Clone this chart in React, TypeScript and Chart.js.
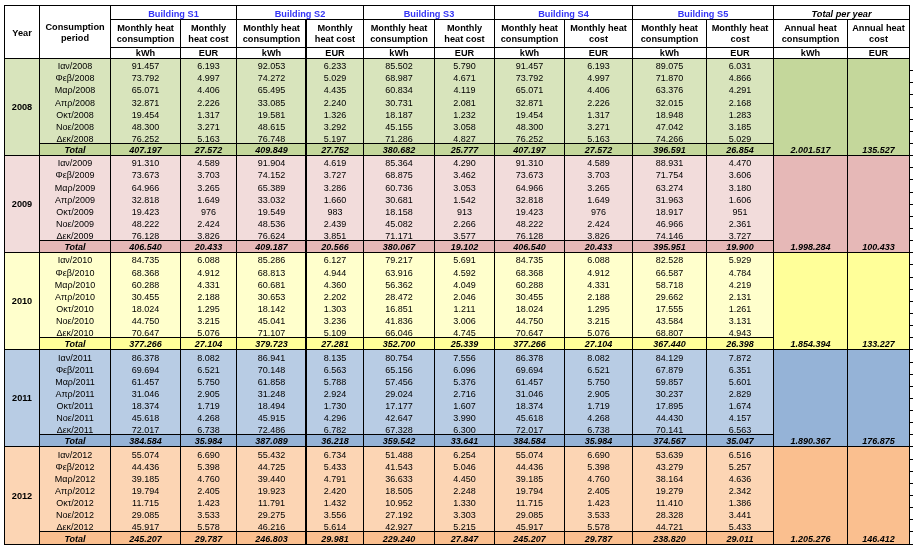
import React, { useEffect, useRef } from 'react';
import { Chart, registerables } from 'chart.js';

Chart.register(...registerables);

// ---------- data ----------
const YEARS = ['2008', '2009', '2010', '2011', '2012'];
const MONTHS = ['Ιαν', 'Φεβ', 'Μαρ', 'Απρ', 'Οκτ', 'Νοε', 'Δεκ'];
const BUILDINGS = ['Building S1', 'Building S2', 'Building S3', 'Building S4', 'Building S5'];
const CONS_HEADS = ['Monthly heat\nconsumption', 'Monthly heat\nconsumption', 'Monthly heat\nconsumption', 'Monthly heat\nconsumption', 'Monthly heat\nconsumption'];
const COST_HEADS = ['Monthly\nheat cost', 'Monthly\nheat cost', 'Monthly\nheat cost', 'Monthly heat\ncost', 'Monthly heat\ncost'];
const TOTAL_HEADS = ['Annual heat\nconsumption', 'Annual heat\ncost'];
const UNITS = ['kWh', 'EUR'];

const S1_KWH = [
  [91457, 73792, 65071, 32871, 19454, 48300, 76252],
  [91310, 73673, 64966, 32818, 19423, 48222, 76128],
  [84735, 68368, 60288, 30455, 18024, 44750, 70647],
  [86378, 69694, 61457, 31046, 18374, 45618, 72017],
  [55074, 44436, 39185, 19794, 11715, 29085, 45917],
];
const S1_KWH_TOTAL = [407197, 406540, 377266, 384584, 245207];
const S1_EUR = [
  [6193, 4997, 4406, 2226, 1317, 3271, 5163],
  [4589, 3703, 3265, 1649, 976, 2424, 3826],
  [6088, 4912, 4331, 2188, 1295, 3215, 5076],
  [8082, 6521, 5750, 2905, 1719, 4268, 6738],
  [6690, 5398, 4760, 2405, 1423, 3533, 5578],
];
const S1_EUR_TOTAL = [27572, 20433, 27104, 35984, 29787];

const S2_KWH = [
  [92053, 74272, 65495, 33085, 19581, 48615, 76748],
  [91904, 74152, 65389, 33032, 19549, 48536, 76624],
  [85286, 68813, 60681, 30653, 18142, 45041, 71107],
  [86941, 70148, 61858, 31248, 18494, 45915, 72486],
  [55432, 44725, 39440, 19923, 11791, 29275, 46216],
];
const S2_KWH_TOTAL = [409849, 409187, 379723, 387089, 246803];
const S2_EUR = [
  [6233, 5029, 4435, 2240, 1326, 3292, 5197],
  [4619, 3727, 3286, 1660, 983, 2439, 3851],
  [6127, 4944, 4360, 2202, 1303, 3236, 5109],
  [8135, 6563, 5788, 2924, 1730, 4296, 6782],
  [6734, 5433, 4791, 2420, 1432, 3556, 5614],
];
const S2_EUR_TOTAL = [27752, 20566, 27281, 36218, 29981];

const S3_KWH = [
  [85502, 68987, 60834, 30731, 18187, 45155, 71286],
  [85364, 68875, 60736, 30681, 18158, 45082, 71171],
  [79217, 63916, 56362, 28472, 16851, 41836, 66046],
  [80754, 65156, 57456, 29024, 17177, 42647, 67328],
  [51488, 41543, 36633, 18505, 10952, 27192, 42927],
];
const S3_KWH_TOTAL = [380682, 380067, 352700, 359542, 229240];
const S3_EUR = [
  [5790, 4671, 4119, 2081, 1232, 3058, 4827],
  [4290, 3462, 3053, 1542, 913, 2266, 3577],
  [5691, 4592, 4049, 2046, 1211, 3006, 4745],
  [7556, 6096, 5376, 2716, 1607, 3990, 6300],
  [6254, 5046, 4450, 2248, 1330, 3303, 5215],
];
const S3_EUR_TOTAL = [25777, 19102, 25339, 33641, 27847];

const S4_KWH = [
  [91457, 73792, 65071, 32871, 19454, 48300, 76252],
  [91310, 73673, 64966, 32818, 19423, 48222, 76128],
  [84735, 68368, 60288, 30455, 18024, 44750, 70647],
  [86378, 69694, 61457, 31046, 18374, 45618, 72017],
  [55074, 44436, 39185, 19794, 11715, 29085, 45917],
];
const S4_KWH_TOTAL = [407197, 406540, 377266, 384584, 245207];
const S4_EUR = [
  [6193, 4997, 4406, 2226, 1317, 3271, 5163],
  [4589, 3703, 3265, 1649, 976, 2424, 3826],
  [6088, 4912, 4331, 2188, 1295, 3215, 5076],
  [8082, 6521, 5750, 2905, 1719, 4268, 6738],
  [6690, 5398, 4760, 2405, 1423, 3533, 5578],
];
const S4_EUR_TOTAL = [27572, 20433, 27104, 35984, 29787];

const S5_KWH = [
  [89075, 71870, 63376, 32015, 18948, 47042, 74266],
  [88931, 71754, 63274, 31963, 18917, 46966, 74146],
  [82528, 66587, 58718, 29662, 17555, 43584, 68807],
  [84129, 67879, 59857, 30237, 17895, 44430, 70141],
  [53639, 43279, 38164, 19279, 11410, 28328, 44721],
];
const S5_KWH_TOTAL = [396591, 395951, 367440, 374567, 238820];
const S5_EUR = [
  [6031, 4866, 4291, 2168, 1283, 3185, 5029],
  [4470, 3606, 3180, 1606, 951, 2361, 3727],
  [5929, 4784, 4219, 2131, 1261, 3131, 4943],
  [7872, 6351, 5601, 2829, 1674, 4157, 6563],
  [6516, 5257, 4636, 2342, 1386, 3441, 5433],
];
const S5_EUR_TOTAL = [26854, 19900, 26398, 35047, 29011];

const ANNUAL_KWH = [2001517, 1998284, 1854394, 1890367, 1205276];
const ANNUAL_EUR = [135527, 100433, 133227, 176875, 146412];

// ---------- layout & style ----------
const COL_W = [35, 71, 70, 56, 70, 57, 71, 60, 70, 68, 74, 67, 74, 62];
const HEAD_H = [14, 28, 11];
const ROW_H = 12.14;
const ROWS_PER_YEAR = 8;
const LIGHT = ['#d8e4bc', '#f2dcdb', '#ffffcc', '#b8cce4', '#fcd5b4'];
const DARK = ['#c4d79b', '#e6b8b7', '#ffff99', '#95b3d7', '#fabf8f'];
const BLUE = '#3535f5';
const FF = '"Liberation Sans", Arial, sans-serif';

const fmt = (n: number) => String(Math.round(n)).replace(/\B(?=(\d{3})+(?!\d))/g, '.');

const tablePlugin = {
  id: 'tablePlugin',
  afterDraw(chart: any) {
    const ctx: CanvasRenderingContext2D = chart.ctx;
    const xs = chart.scales.x;
    const ys = chart.scales.y;
    const edges: number[] = [0];
    COL_W.forEach((w) => edges.push(edges[edges.length - 1] + w));
    const hEdges: number[] = [0];
    HEAD_H.forEach((h) => hEdges.push(hEdges[hEdges.length - 1] + h));
    const headEnd = hEdges[hEdges.length - 1];
    const X = (c: number) => Math.round(xs.getPixelForValue(edges[c]));
    const Yv = (v: number) => Math.round(ys.getPixelForValue(v));
    const blockTop = (b: number) => headEnd + b * ROWS_PER_YEAR * ROW_H;
    const rowTop = (b: number, r: number) => blockTop(b) + r * ROW_H;
    const nCols = COL_W.length;
    const bottomV = blockTop(YEARS.length);

    const fill = (c0: number, c1: number, v0: number, v1: number, color: string) => {
      ctx.fillStyle = color;
      const x0 = X(c0), x1 = X(c1), y0 = Yv(v0), y1 = Yv(v1);
      ctx.fillRect(x0, y0, x1 - x0, y1 - y0);
    };
    const vLine = (c: number, v0: number, v1: number, w = 1) => {
      ctx.fillStyle = '#000';
      const x = X(c);
      const y0 = Yv(v0), y1 = Yv(v1);
      ctx.fillRect(x - (w > 1 ? 1 : 0), y0, w, y1 - y0 + 1);
    };
    const hLine = (c0: number, c1: number, v: number) => {
      ctx.fillStyle = '#000';
      const x0 = X(c0), x1 = X(c1);
      ctx.fillRect(x0, Yv(v), x1 - x0 + 1, 1);
    };
    const cx = (c0: number, c1: number) => (X(c0) + X(c1)) / 2 + 0.5;
    const txt = (s: string, x: number, y: number, font: string, color = '#000', base: CanvasTextBaseline = 'alphabetic') => {
      ctx.font = font;
      ctx.fillStyle = color;
      ctx.textAlign = 'center';
      ctx.textBaseline = base;
      ctx.fillText(s, x, y);
    };
    const HB = `bold 9.2px ${FF}`;
    const HBI = `italic bold 9.2px ${FF}`;
    const DN = `9px ${FF}`;
    const DBI = `italic bold 9px ${FF}`;

    // background
    ctx.save();
    fill(0, nCols, 0, headEnd, '#ffffff');

    const kwh = [S1_KWH, S2_KWH, S3_KWH, S4_KWH, S5_KWH];
    const eur = [S1_EUR, S2_EUR, S3_EUR, S4_EUR, S5_EUR];
    const kwhT = [S1_KWH_TOTAL, S2_KWH_TOTAL, S3_KWH_TOTAL, S4_KWH_TOTAL, S5_KWH_TOTAL];
    const eurT = [S1_EUR_TOTAL, S2_EUR_TOTAL, S3_EUR_TOTAL, S4_EUR_TOTAL, S5_EUR_TOTAL];

    // fills
    YEARS.forEach((_, b) => {
      fill(0, 12, blockTop(b), blockTop(b + 1), LIGHT[b]);
      fill(1, 12, rowTop(b, 7), blockTop(b + 1), DARK[b]);
      fill(12, 14, blockTop(b), blockTop(b + 1), DARK[b]);
    });

    // header lines
    hLine(0, nCols, 0);
    hLine(2, nCols, hEdges[1]);
    hLine(2, nCols, hEdges[2]);
    hLine(0, nCols, hEdges[3]);
    for (let c = 0; c <= nCols; c++) {
      const full = c < 3 || c % 2 === 0;
      if (c === 5) continue;
      vLine(c, full ? 0 : hEdges[1], headEnd);
    }
    // body lines
    YEARS.forEach((_, b) => {
      hLine(1, 12, rowTop(b, 7));
      hLine(0, nCols, blockTop(b + 1));
      for (let c = 0; c <= nCols; c++) {
        if (c === 5) continue;
        vLine(c, blockTop(b), blockTop(b + 1));
      }
      for (let r = 1; r <= ROWS_PER_YEAR; r++) {
        ctx.fillStyle = '#000';
        ctx.fillRect(X(nCols), Yv(rowTop(b, r)), 4, 1);
      }
    });
    vLine(5, hEdges[1], bottomV, 2);

    // header text
    const h0b = Yv(hEdges[1]) - 2.5;
    const h1b = Yv(hEdges[2]);
    const h2b = Yv(hEdges[3]) - 2;
    txt('Year', cx(0, 1), Yv(headEnd) - 22, HB);
    txt('Consumption', cx(1, 2), Yv(headEnd) - 28.5, HB);
    txt('period', cx(1, 2), Yv(headEnd) - 17.5, HB);
    BUILDINGS.forEach((name, i) => {
      const c = 2 + i * 2;
      txt(name, cx(c, c + 2), h0b, HB, BLUE);
      const a = CONS_HEADS[i].split('\n');
      txt(a[0], cx(c, c + 1), h1b - 16.5, HB);
      txt(a[1], cx(c, c + 1), h1b - 5.5, HB);
      const e = COST_HEADS[i].split('\n');
      txt(e[0], cx(c + 1, c + 2), h1b - 16.5, HB);
      txt(e[1], cx(c + 1, c + 2), h1b - 5.5, HB);
      txt(UNITS[0], cx(c, c + 1), h2b, HB);
      txt(UNITS[1], cx(c + 1, c + 2), h2b, HB);
    });
    txt('Total per year', cx(12, 14), h0b, HBI);
    TOTAL_HEADS.forEach((h, i) => {
      const a = h.split('\n');
      txt(a[0], cx(12 + i, 13 + i), h1b - 16.5, HB);
      txt(a[1], cx(12 + i, 13 + i), h1b - 5.5, HB);
      txt(UNITS[i], cx(12 + i, 13 + i), h2b, HB);
    });

    // body text
    YEARS.forEach((year, b) => {
      txt(year, cx(0, 1), (Yv(blockTop(b)) + Yv(blockTop(b + 1))) / 2 + 1, HB, '#000', 'middle');
      for (let r = 0; r < 7; r++) {
        const base = Yv(rowTop(b, r + 1)) - 1.5;
        txt(`${MONTHS[r]}/${year}`, cx(1, 2), base, DN);
        for (let i = 0; i < 5; i++) {
          const c = 2 + i * 2;
          txt(fmt(kwh[i][b][r]), cx(c, c + 1), base, DN);
          txt(fmt(eur[i][b][r]), cx(c + 1, c + 2), base, DN);
        }
      }
      const tb = Yv(rowTop(b, 8)) - 2;
      txt('Total', cx(1, 2), tb, DBI);
      for (let i = 0; i < 5; i++) {
        const c = 2 + i * 2;
        txt(fmt(kwhT[i][b]), cx(c, c + 1), tb, DBI);
        txt(fmt(eurT[i][b]), cx(c + 1, c + 2), tb, DBI);
      }
      txt(fmt(ANNUAL_KWH[b]), cx(12, 13), tb, DBI);
      txt(fmt(ANNUAL_EUR[b]), cx(13, 14), tb, DBI);
    });
    ctx.restore();
  },
};

const TOTAL_W = COL_W.reduce((a, b) => a + b, 0);
const TOTAL_H = HEAD_H.reduce((a, b) => a + b, 0) + YEARS.length * ROWS_PER_YEAR * ROW_H;

export default function App() {
  const ref = useRef<HTMLCanvasElement | null>(null);
  useEffect(() => {
    if (!ref.current) return;
    const chart = new Chart(ref.current, {
      type: 'scatter',
      data: { datasets: [] },
      options: {
        animation: false,
        responsive: false,
        maintainAspectRatio: false,
        devicePixelRatio: 1,
        events: [],
        layout: { padding: { left: 4, top: 5, right: 915 - 4 - TOTAL_W, bottom: 549 - 5 - TOTAL_H } },
        plugins: { legend: { display: false }, tooltip: { enabled: false }, title: { display: false } },
        scales: {
          x: { type: 'linear', display: false, min: 0, max: TOTAL_W },
          y: { type: 'linear', display: false, min: 0, max: TOTAL_H, reverse: true },
        },
      },
      plugins: [tablePlugin],
    } as any);
    return () => chart.destroy();
  }, []);
  return (
    <div style={{ position: 'absolute', left: 0, top: 0, width: 915, height: 549, background: '#fff' }}>
      <canvas ref={ref} width={915} height={549} style={{ display: 'block' }} />
    </div>
  );
}
